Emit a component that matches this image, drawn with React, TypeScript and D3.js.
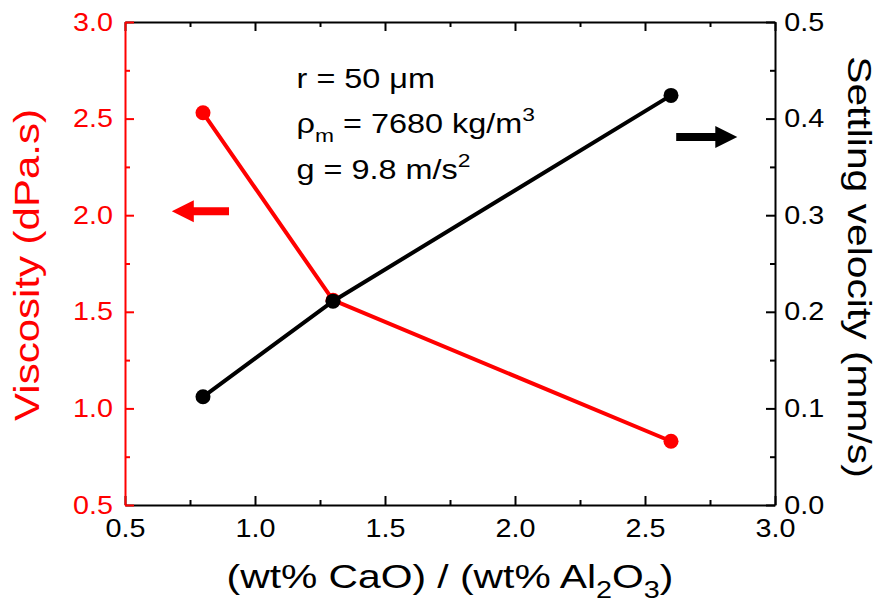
import React, { useRef, useEffect } from "react";
import * as d3 from "d3";

// basicity ratio (wt% CaO)/(wt% Al2O3)
const ratio = [0.8, 1.3, 2.6];
// viscosity, dPa.s (left axis)
const viscosity = [2.53, 1.56, 0.83];
// settling velocity, mm/s (right axis)
const velocity = [0.112, 0.211, 0.424];

const xTicks = [0.5, 1.0, 1.5, 2.0, 2.5, 3.0];
const viscTicks = [0.5, 1.0, 1.5, 2.0, 2.5, 3.0];
const velTicks = [0.0, 0.1, 0.2, 0.3, 0.4, 0.5];

const FONT = "'Liberation Sans', Arial, sans-serif";
const RED = "#ff0000";

function App() {
    const svgRef = useRef<SVGSVGElement>(null);

    useEffect(() => {
        const width = 882;
        const height = 603;
        const margin = { top: 22, right: 107, bottom: 98, left: 125 };
        const w = width - margin.left - margin.right;
        const h = height - margin.top - margin.bottom;

        const svg = d3.select(svgRef.current);
        svg.selectAll("*").remove();
        svg.attr("width", width).attr("height", height);

        const g = svg
            .append("g")
            .attr("transform", `translate(${margin.left},${margin.top})`);

        // scales
        const x = d3.scaleLinear().domain([0.5, 3.0]).range([0, w]);
        const yL = d3.scaleLinear().domain([0.5, 3.0]).range([h, 0]);
        const yR = d3.scaleLinear().domain([0, 0.5]).range([h, 0]);

        const mids = (arr: number[]) => d3.pairs(arr).map(([a, b]) => (a + b) / 2);
        const fmt = d3.format(".1f");

        const style = (sel: any, color: string) => {
            sel.attr("font-size", 25).attr("font-family", FONT);
            sel.select(".domain").attr("stroke", color).attr("stroke-width", 2);
            sel.selectAll(".tick line").attr("stroke", color).attr("stroke-width", 2);
            sel.selectAll(".tick text")
                .attr("fill", color)
                .attr("transform", "scale(1.15,1)");
        };

        // minor ticks
        g.append("g").attr("transform", `translate(0,${h})`)
            .call(d3.axisBottom(x).tickValues(mids(xTicks)).tickSizeInner(-5).tickSizeOuter(0).tickFormat(() => ""))
            .call((s) => { s.select(".domain").remove(); style(s, "#000"); });
        g.append("g")
            .call(d3.axisTop(x).tickValues(mids(xTicks)).tickSizeInner(-5).tickSizeOuter(0).tickFormat(() => ""))
            .call((s) => { s.select(".domain").remove(); style(s, "#000"); });
        g.append("g").attr("transform", `translate(${w},0)`)
            .call(d3.axisRight(yR).tickValues(mids(velTicks)).tickSizeInner(-5).tickSizeOuter(0).tickFormat(() => ""))
            .call((s) => { s.select(".domain").remove(); style(s, "#000"); });
        g.append("g")
            .call(d3.axisLeft(yL).tickValues(mids(viscTicks)).tickSizeInner(-5).tickSizeOuter(0).tickFormat(() => ""))
            .call((s) => { s.select(".domain").remove(); style(s, RED); });

        // major axes
        g.append("g")
            .call(d3.axisTop(x).tickValues(xTicks).tickSizeInner(-9).tickSizeOuter(0).tickFormat(() => ""))
            .call((s) => style(s, "#000"));
        g.append("g").attr("transform", `translate(${w},0)`)
            .call(d3.axisRight(yR).tickValues(velTicks).tickSizeInner(-9).tickSizeOuter(0).tickPadding(8).tickFormat(fmt as any))
            .call((s) => style(s, "#000"));
        g.append("g").attr("transform", `translate(0,${h})`)
            .call(d3.axisBottom(x).tickValues(xTicks).tickSizeInner(-9).tickSizeOuter(0).tickPadding(14).tickFormat(fmt as any))
            .call((s) => style(s, "#000"));
        g.append("g")
            .call(d3.axisLeft(yL).tickValues(viscTicks).tickSizeInner(-9).tickSizeOuter(0).tickPadding(10.5).tickFormat(fmt as any))
            .call((s) => style(s, RED));

        // viscosity series
        const redLine = d3.line<number>().x((d, i) => x(ratio[i])).y((d) => yL(d));
        g.append("path")
            .datum(viscosity)
            .attr("d", redLine)
            .attr("fill", "none")
            .attr("stroke", RED)
            .attr("stroke-width", 4);
        g.selectAll(".redpt")
            .data(viscosity)
            .join("circle")
            .attr("cx", (d, i) => x(ratio[i]))
            .attr("cy", (d) => yL(d))
            .attr("r", 7.5)
            .attr("fill", RED);

        // settling velocity series
        const blackLine = d3.line<number>().x((d, i) => x(ratio[i])).y((d) => yR(d));
        g.append("path")
            .datum(velocity)
            .attr("d", blackLine)
            .attr("fill", "none")
            .attr("stroke", "#000")
            .attr("stroke-width", 4);
        g.selectAll(".blackpt")
            .data(velocity)
            .join("circle")
            .attr("cx", (d, i) => x(ratio[i]))
            .attr("cy", (d) => yR(d))
            .attr("r", 7.5)
            .attr("fill", "#000");

        // arrows pointing to the matching axis
        const arrow = (x0: number, x1: number, yy: number) => {
            const dir = Math.sign(x1 - x0);
            const hx = x1 - dir * 22;
            return `M${x0},${yy - 4}L${hx},${yy - 4}L${hx},${yy - 11}L${x1},${yy}L${hx},${yy + 11}L${hx},${yy + 4}L${x0},${yy + 4}Z`;
        };
        g.append("path").attr("d", arrow(x(0.9), x(0.68), yL(2.02))).attr("fill", RED);
        g.append("path").attr("d", arrow(x(2.62), x(2.855), yR(0.381))).attr("fill", "#000");

        // parameter notes
        const note = g.append("g")
            .attr("transform", `translate(${x(1.16)},${yL(2.66)})`)
            .attr("font-family", FONT)
            .attr("font-size", 27);
        note.append("text").attr("transform", "scale(1.2,1)").text("r = 50 μm");
        const t2 = note.append("text").attr("y", 45).attr("transform", "scale(1.2,1)");
        t2.append("tspan").text("ρ");
        t2.append("tspan").attr("dy", 9).attr("font-size", 19).text("m");
        t2.append("tspan").attr("dy", -9).text(" = 7680 kg/m");
        t2.append("tspan").attr("dy", -12).attr("font-size", 19).text("3");
        const t3 = note.append("text").attr("y", 91).attr("transform", "scale(1.2,1)");
        t3.append("tspan").text("g = 9.8 m/s");
        t3.append("tspan").attr("dy", -12).attr("font-size", 19).text("2");

        // axis titles
        const xt = svg.append("g")
            .attr("transform", `translate(450,588)`)
            .append("text")
            .attr("transform", "scale(1.2,1)")
            .attr("text-anchor", "middle")
            .attr("font-family", FONT)
            .attr("font-size", 34);
        xt.append("tspan").text("(wt% CaO) / (wt% Al");
        xt.append("tspan").attr("dy", 10).attr("font-size", 24).text("2");
        xt.append("tspan").attr("dy", -10).text("O");
        xt.append("tspan").attr("dy", 10).attr("font-size", 24).text("3");
        xt.append("tspan").attr("dy", -10).text(")");

        svg.append("g")
            .attr("transform", `translate(39,265) rotate(-90)`)
            .append("text")
            .attr("transform", "scale(1.2,1)")
            .attr("text-anchor", "middle")
            .attr("font-family", FONT)
            .attr("font-size", 35)
            .attr("fill", RED)
            .text("Viscosity (dPa.s)");

        svg.append("g")
            .attr("transform", `translate(848,267) rotate(90)`)
            .append("text")
            .attr("transform", "scale(1.2,1)")
            .attr("text-anchor", "middle")
            .attr("font-family", FONT)
            .attr("font-size", 34)
            .attr("fill", "#000")
            .text("Settling velocity (mm/s)");
    }, []);

    return (
        <svg
            ref={svgRef}
            style={{ position: "absolute", left: 0, top: 0, display: "block", background: "#fff" }}
        ></svg>
    );
}

export default App;
